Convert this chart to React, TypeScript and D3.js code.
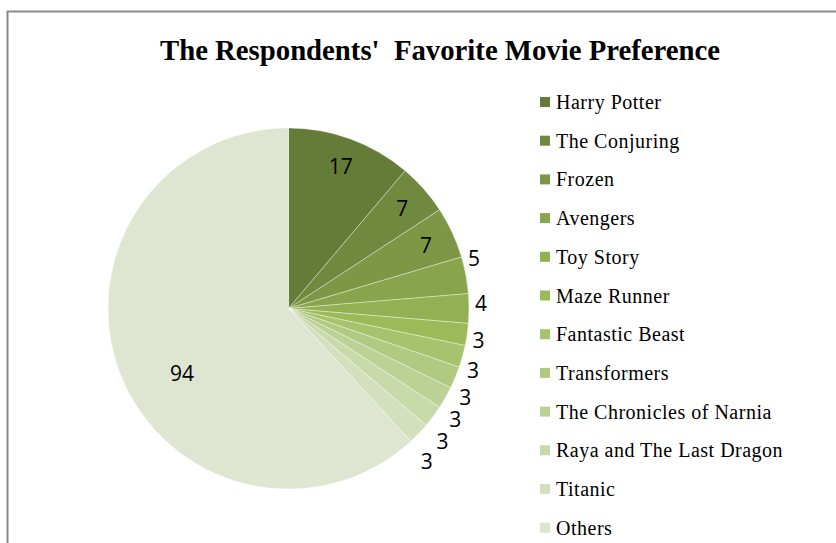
import React from "react";
import * as d3 from "d3";

const categories = [
  "Harry Potter",
  "The Conjuring",
  "Frozen",
  "Avengers",
  "Toy Story",
  "Maze Runner",
  "Fantastic Beast",
  "Transformers",
  "The Chronicles of Narnia",
  "Raya and The Last Dragon",
  "Titanic",
  "Others",
];
const values = [17, 7, 7, 5, 4, 3, 3, 3, 3, 3, 3, 94];
const colors = [
  "#657C39",
  "#71893F",
  "#7D9746",
  "#88A44D",
  "#93B152",
  "#9BBB59",
  "#A6C36E",
  "#B1CA82",
  "#BCD196",
  "#C8DAA9",
  "#D3E0BD",
  "#DEE6D2",
];
const title = "The Respondents'  Favorite Movie Preference";

const W = 836;
const H = 543;
const DEG = Math.PI / 180;

export default function App() {
  const cx = 288.5;
  const cy = 308.5;
  const r = 180.5;
  const pie = d3
    .pie<number>()
    .sort(null)
    .value((d) => d)
    .startAngle(0)
    .endAngle(2 * Math.PI);
  const arcs = pie(values);
  const arcGen = d3.arc<d3.PieArcDatum<number>>().innerRadius(0).outerRadius(r);

  const legendX = 540;
  const legendY0 = 102;
  const legendStep = 38.7;

  const labelPos = (a: d3.PieArcDatum<number>, i: number) => {
    const midDeg = ((a.startAngle + a.endAngle) / 2) / DEG;
    let ang = midDeg;
    let dist: number;
    if (i === values.length - 1) {
      ang = midDeg - 10;
      dist = 0.69 * r;
    } else if (a.data >= 7) {
      dist = 0.84 * r;
    } else {
      ang = midDeg + Math.max(-6, Math.min(4, (midDeg - 95) * 0.3));
      dist = r + 12 + Math.max(0, midDeg - 100) * 0.4;
    }
    return [Math.sin(ang * DEG) * dist, -Math.cos(ang * DEG) * dist];
  };

  return (
    <svg
      width={W}
      height={H}
      style={{ position: "absolute", left: 0, top: 0, background: "#fff" }}
    >
      <rect x={0} y={0} width={W} height={H} fill="#fff" />
      <path
        d={`M7.5,${H} L7.5,11.5 L${W},11.5`}
        fill="none"
        stroke="#8a8a8a"
        strokeWidth={2}
      />
      <text
        x={440}
        y={60}
        textAnchor="middle"
        fontFamily="'Liberation Serif', 'Times New Roman', serif"
        fontWeight="bold"
        fontSize={29}
        textLength={560}
        lengthAdjust="spacingAndGlyphs"
        fill="#000"
        style={{ whiteSpace: "pre" }}
      >
        {title}
      </text>
      <g transform={`translate(${cx},${cy})`}>
        {arcs.map((a, i) => (
          <path
            key={i}
            d={arcGen(a) || ""}
            fill={colors[i]}
            stroke="#ffffff"
            strokeOpacity={0.6}
            strokeWidth={0.6}
          />
        ))}
        {arcs.map((a, i) => {
          const [x, y] = labelPos(a, i);
          return (
            <text
              key={"l" + i}
              x={x}
              y={y}
              textAnchor="middle"
              dominantBaseline="central"
              fontFamily="'Open Sans', 'Noto Sans', sans-serif"
              fontSize={21}
              fill="#000"
            >
              {a.data}
            </text>
          );
        })}
      </g>
      <g>
        {categories.map((c, i) => (
          <g key={c} transform={`translate(${legendX},${legendY0 + i * legendStep})`}>
            <rect x={0} y={-5} width={10} height={10} fill={colors[i]} />
            <text
              x={16}
              y={0}
              dominantBaseline="central"
              fontFamily="'Liberation Serif', 'Times New Roman', serif"
              fontSize={20}
              letterSpacing={0.5}
              fill="#000"
            >
              {c}
            </text>
          </g>
        ))}
      </g>
    </svg>
  );
}
